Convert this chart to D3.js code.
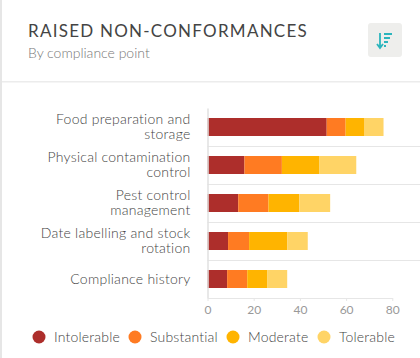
<!DOCTYPE html>
<html>
<head>
<meta charset="utf-8">
<script src="https://cdn.jsdelivr.net/npm/d3@7"></script>
<style>
  html, body { margin: 0; padding: 0; background: #fff; overflow: hidden; }
  text { font-family: Lato, sans-serif; }
</style>
</head>
<body>
<div id="chart"></div>
<script>
// Dades
const categories = [
    "Food preparation and storage",
    "Physical contamination control",
    "Pest control management",
    "Date labelling and stock rotation",
    "Compliance history"
];
const levels = ["Intolerable", "Substantial", "Moderate", "Tolerable"];
const intolerable = [51.6, 16, 13.3, 8.9, 8.5];
const substantial = [8.2, 16.2, 13.1, 9.1, 8.7];
const moderate = [8.2, 16.1, 13.3, 16.5, 8.6];
const tolerable = [8.2, 16.1, 13.4, 8.9, 8.7];
const xTicks = [0, 20, 40, 60, 80];
const colors = ["#ad2e2b", "#ff7b22", "#ffb400", "#ffd466"];

const W = 420, H = 358;

const svg = d3.select("#chart").append("svg")
    .attr("width", W)
    .attr("height", H)
    .style("display", "block");

// Vora i capçalera
svg.append("rect").attr("x", 0).attr("y", 0).attr("width", 2).attr("height", H).attr("fill", "#e6e6e6");
svg.append("rect").attr("x", 2).attr("y", 81).attr("width", W - 2).attr("height", 1.5).attr("fill", "#ececec");

svg.append("text")
    .attr("x", 28).attr("y", 37)
    .style("font-size", "17px")
    .style("letter-spacing", "1.25px")
    .style("fill", "#444")
    .text("RAISED NON-CONFORMANCES");

svg.append("text")
    .attr("x", 28).attr("y", 58)
    .style("font-size", "14px")
    .style("font-weight", 300)
    .style("fill", "#777")
    .text("By compliance point");

// Botó d'ordenar
const btn = svg.append("g").attr("transform", "translate(368,23)");
btn.append("rect").attr("width", 34).attr("height", 34).attr("rx", 3).attr("fill", "#eeeeec");
btn.append("path")
    .attr("d", "M12 10V24M9 21L12 25L15 21")
    .attr("fill", "none").attr("stroke", "#2bb5bd").attr("stroke-width", 1.8);
btn.append("path")
    .attr("d", "M16 11H24M16 15H22M16 19H20M16 23H18")
    .attr("fill", "none").attr("stroke", "#2bb5bd").attr("stroke-width", 2);

// Escales
const x = d3.scaleLinear().domain([0, 80]).range([207.5, 392.3]);
const y = d3.scaleBand().domain(categories).range([108, 298]);
const barHeight = 18;

const rows = categories.map((c, i) => ({
    category: c,
    Intolerable: intolerable[i],
    Substantial: substantial[i],
    Moderate: moderate[i],
    Tolerable: tolerable[i]
}));
const series = d3.stack().keys(levels)(rows);

// Línies entre files
svg.append("g").selectAll("line")
    .data(categories.slice(1))
    .enter()
    .append("line")
        .attr("x1", x(0))
        .attr("x2", W)
        .attr("y1", d => y(d) + 0.5)
        .attr("y2", d => y(d) + 0.5)
        .attr("stroke", "#e6e6e6");

// Barres
svg.append("g").selectAll("g")
    .data(series)
    .enter()
    .append("g")
        .attr("fill", (d, i) => colors[i])
    .selectAll("rect")
    .data(d => d)
    .enter()
    .append("rect")
        .attr("x", d => x(d[0]))
        .attr("y", d => y(d.data.category) + (y.bandwidth() - barHeight) / 2)
        .attr("width", d => x(d[1]) - x(d[0]))
        .attr("height", barHeight);

// Eix Y
const yAxis = svg.append("g")
    .attr("transform", `translate(${x(0)},0)`)
    .call(d3.axisLeft(y).tickSize(0).tickPadding(17));
yAxis.select(".domain").attr("stroke", "#e0e0e0").attr("stroke-width", 1.5);
yAxis.selectAll("text")
    .style("font-size", "14px")
    .style("font-weight", 300)
    .style("letter-spacing", "0.25px")
    .style("fill", "#444")
    .call(wrap, 152);

// Eix X
const xAxis = svg.append("g")
    .attr("transform", "translate(0,298)")
    .call(d3.axisBottom(x).tickValues(xTicks).tickSize(3).tickPadding(4).tickSizeOuter(0));
xAxis.select(".domain").attr("stroke", "#e6e6e6");
xAxis.selectAll("line").attr("stroke", "#e6e6e6");
xAxis.selectAll("text")
    .style("font-size", "12px")
    .style("fill", "#999");

// Llegenda
const legendX = [39, 135, 233, 324];
const legend = svg.append("g").selectAll("g")
    .data(levels)
    .enter()
    .append("g")
        .attr("transform", (d, i) => `translate(${legendX[i]},337)`);
legend.append("circle")
    .attr("r", 6.5)
    .attr("fill", (d, i) => colors[i]);
legend.append("text")
    .attr("x", 15)
    .attr("y", 5)
    .style("font-size", "14px")
    .style("font-weight", 300)
    .style("letter-spacing", "0.2px")
    .style("fill", "#444")
    .text(d => d);

// Parteix les etiquetes en línies
function wrap(selection, width) {
    selection.each(function() {
        const text = d3.select(this);
        const words = text.text().split(" ");
        const xPos = text.attr("x");
        text.text(null);
        const probe = text.append("tspan");
        const lines = [];
        let line = [];
        words.forEach(w => {
            line.push(w);
            probe.text(line.join(" "));
            if (probe.node().getComputedTextLength() > width && line.length > 1) {
                line.pop();
                lines.push(line.join(" "));
                line = [w];
            }
        });
        lines.push(line.join(" "));
        probe.remove();
        const lineHeight = 15;
        const startY = 4.5 - (lines.length - 1) * lineHeight / 2;
        text.attr("dy", null).attr("y", startY);
        lines.forEach((l, i) => {
            text.append("tspan")
                .attr("x", xPos)
                .attr("y", startY + i * lineHeight)
                .text(l);
        });
    });
}
</script>
</body>
</html>
